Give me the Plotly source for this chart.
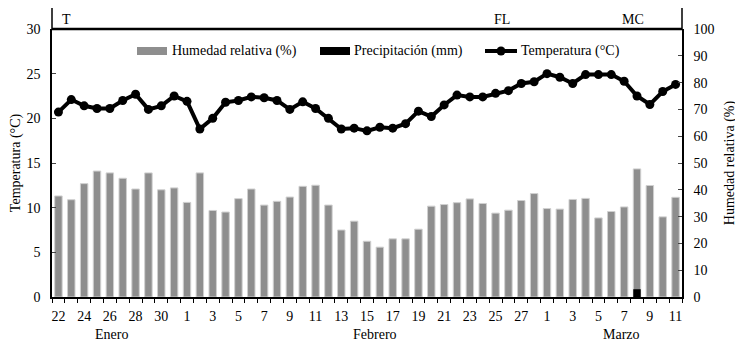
import plotly.graph_objects as go

day_labels = ["22","23","24","25","26","27","28","29","30","31",
              "1","2","3","4","5","6","7","8","9","10","11","12","13","14",
              "15","16","17","18","19","20","21","22","23","24","25","26","27","28",
              "1","2","3","4","5","6","7","8","9","10","11"]

humedad = [37.7, 36.3, 42.3, 47.0, 46.3, 44.3, 40.3, 46.3, 40.0, 40.7,
           35.3, 46.3, 32.3, 31.7, 36.7, 40.3, 34.3, 35.7, 37.3, 41.3, 41.7, 34.3, 25.0, 28.3,
           20.8, 18.6, 21.7, 21.7, 25.3, 33.9, 34.5, 35.2, 36.6, 34.9, 31.3, 32.4, 36.0, 38.6,
           33.0, 32.8, 36.4, 36.8, 29.5, 31.9, 33.6, 47.8, 41.6, 29.9, 37.2]

precipitacion = [0]*45 + [2.9] + [0]*3

temperatura = [20.7, 22.1, 21.4, 21.1, 21.1, 22.0, 22.7, 21.0, 21.4, 22.5,
               21.9, 18.8, 20.0, 21.8, 22.0, 22.4, 22.3, 22.0, 21.0, 21.85, 21.1, 20.0, 18.8, 18.9,
               18.6, 19.0, 18.9, 19.4, 20.8, 20.2, 21.5, 22.6, 22.4, 22.4, 22.8, 23.1, 23.9, 24.1,
               25.0, 24.6, 23.9, 24.9, 24.9, 24.9, 24.15, 22.5, 21.55, 23.0, 23.8]

months = ["Enero", "Febrero", "Marzo"]
month_pos = [4.1, 24.6, 43.8]
stages = ["T", "FL", "MC"]
stage_pos = [0.65, 34.5, 44.7]

names = ["Humedad relativa (%)", "Precipitación (mm)", "Temperatura (°C)"]

x = list(range(len(day_labels)))
FONT = "Liberation Serif"
BAR_GRAY = "#8e8e8e"

fig = go.Figure()
fig.add_trace(go.Bar(x=x, y=humedad, name=names[0],
                     marker=dict(color=BAR_GRAY, line=dict(color="#d0d0d0", width=1)),
                     width=0.58, yaxis="y"))
fig.add_trace(go.Bar(x=x, y=precipitacion, name=names[1],
                     marker=dict(color="#000000", line=dict(width=0)),
                     width=0.58, yaxis="y"))
fig.add_trace(go.Scatter(x=x, y=temperatura, name=names[2], mode="lines+markers",
                         line=dict(color="black", width=4),
                         marker=dict(color="black", size=9), yaxis="y2"))

# plot area in page pixels (page has an 8px body offset)
PX0, PX1, PY0, PY1 = 52, 682, 29, 297
def px(xp):
    return (xp - PX0) / (PX1 - PX0)
def py(yp):
    return (PY1 - yp) / (PY1 - PY0)

annotations = []
for m, p in zip(months, month_pos):
    annotations.append(dict(x=p, y=py(334), xref="x", yref="paper", text=m, showarrow=False,
                            yanchor="middle", font=dict(size=14, color="black", family=FONT)))
for s, p in zip(stages, stage_pos):
    annotations.append(dict(x=p, y=py(19), xref="x", yref="paper", text=s, showarrow=False,
                            yanchor="middle", font=dict(size=14, color="black", family=FONT)))

# custom legend
leg_y = 51
shapes = [
    dict(type="rect", xref="paper", yref="paper", x0=0, x1=1, y0=1, y1=py(7),
         line=dict(color="black", width=1.5), fillcolor="rgba(0,0,0,0)"),
    dict(type="line", xref="paper", yref="paper", x0=0, x1=1, y0=1, y1=1,
         line=dict(color="black", width=2.5)),
    dict(type="rect", xref="paper", yref="paper", x0=px(137), x1=px(167), y0=py(55), y1=py(47),
         line=dict(width=0), fillcolor=BAR_GRAY),
    dict(type="rect", xref="paper", yref="paper", x0=px(320), x1=px(350), y0=py(55), y1=py(47),
         line=dict(width=0), fillcolor="black"),
    dict(type="line", xref="paper", yref="paper", x0=px(485), x1=px(517), y0=py(leg_y), y1=py(leg_y),
         line=dict(color="black", width=4)),
    dict(type="circle", xref="paper", yref="paper", x0=px(496.5), x1=px(505.5), y0=py(leg_y + 4.5),
         y1=py(leg_y - 4.5), line=dict(width=0), fillcolor="black"),
]
for name, lx in zip(names, [170, 352, 519]):
    annotations.append(dict(x=px(lx), y=py(leg_y), xref="paper", yref="paper", text=name,
                            showarrow=False, xanchor="left", yanchor="middle",
                            font=dict(size=14, color="black", family=FONT)))

tick_idx = list(range(0, len(day_labels), 2))

fig.update_layout(
    width=743, height=353,
    margin=dict(l=PX0 - 8, r=743 + 8 - PX1, t=PY0 - 8, b=353 + 8 - PY1, autoexpand=False),
    paper_bgcolor="white", plot_bgcolor="white",
    barmode="overlay",
    font=dict(family=FONT, size=14, color="black"),
    showlegend=False,
    xaxis=dict(range=[-0.5, len(day_labels) - 0.5], tickmode="array", tickvals=tick_idx,
               ticktext=[day_labels[i] for i in tick_idx], ticks="", showline=True,
               linecolor="black", linewidth=1.5, showgrid=False, zeroline=False,
               ticklabelstandoff=5, automargin=False,
               tickfont=dict(size=14, family=FONT),
               minor=dict(tickmode="linear", tick0=-0.5, dtick=1, ticks="outside",
                          ticklen=4, tickcolor="black", showgrid=False)),
    yaxis=dict(range=[0, 100], side="right", dtick=10, ticks="inside", ticklen=4,
               showline=True, linecolor="black", linewidth=1.5, showgrid=False, zeroline=False,
               ticklabelstandoff=7, automargin=False,
               title=dict(text="Humedad relativa (%)", font=dict(size=14, family=FONT), standoff=11),
               tickfont=dict(size=14, family=FONT)),
    yaxis2=dict(range=[0, 30], side="left", overlaying="y", dtick=5, ticks="inside", ticklen=4,
                showline=True, linecolor="black", linewidth=1.5, showgrid=False, zeroline=False,
                ticklabelstandoff=7, automargin=False,
                title=dict(text="Temperatura (°C)", font=dict(size=14, family=FONT), standoff=4),
                tickfont=dict(size=14, family=FONT)),
    annotations=annotations,
    shapes=shapes,
)

fig.write_html("out.html")
